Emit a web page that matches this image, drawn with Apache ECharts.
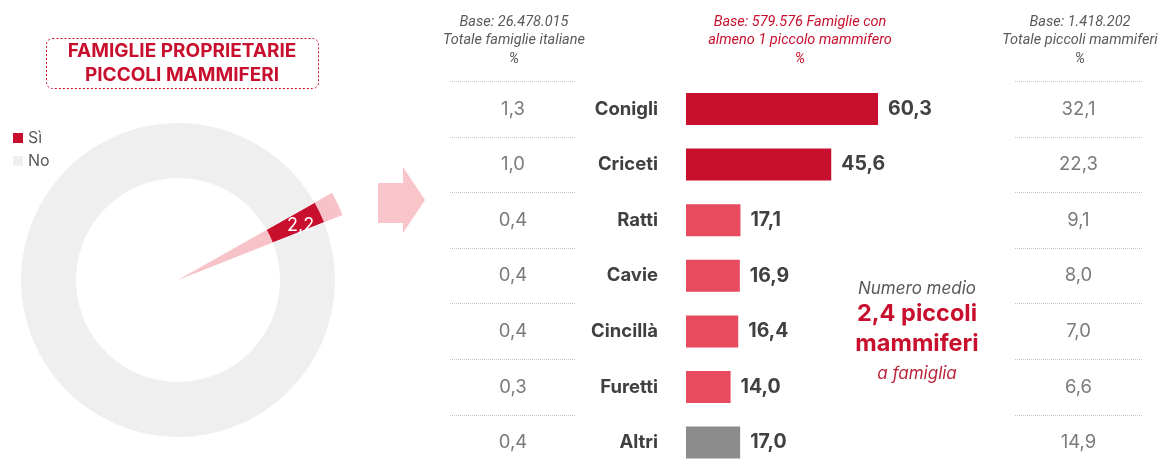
<!DOCTYPE html>
<html>
<head>
<meta charset="utf-8">
<script src="https://cdn.jsdelivr.net/npm/echarts@6/dist/echarts.min.js"></script>
<style>
html,body{margin:0;padding:0;background:#fff;}
#c{width:1159px;height:464px;}
</style>
</head>
<body>
<div id="c"></div>
<script>
// ---- data ----
var donutNames = ['Sì', 'No'];
var donutValues = [2.2, 97.8];
var categories = ['Conigli', 'Criceti', 'Ratti', 'Cavie', 'Cincillà', 'Furetti', 'Altri'];
var famigliePct = [60.3, 45.6, 17.1, 16.9, 16.4, 14.0, 17.0];
var totaleFamigliePct = [1.3, 1.0, 0.4, 0.4, 0.4, 0.3, 0.4];
var totaleMammiferiPct = [32.1, 22.3, 9.1, 8.0, 7.0, 6.6, 14.9];
var barTiers = ['dark', 'dark', 'light', 'light', 'light', 'light', 'other'];

var RED = '#c8102e';
var PINK = '#e84a5f';
var GREY = '#8c8c8c';
var TXT = '#404040';
var TXT2 = '#595959';
var tierColor = {dark: RED, light: PINK, other: GREY};
function fmt(v){ return v.toFixed(1).replace('.', ','); }

var FONT = 'Inter, "Noto Sans", sans-serif';
var HFONT = 'Roboto, "Noto Sans", sans-serif';
var gridTop = 81.2, gridH = 389.2;

var chart = echarts.init(document.getElementById('c'), null, {renderer: 'canvas'});

function tableCol(idx, values){
  return {
    type: 'scatter', xAxisIndex: idx, yAxisIndex: idx,
    symbolSize: 0, silent: true,
    data: values.map(function(v, i){ return {value: [0, i], label: {formatter: fmt(v)}}; }),
    label: {show: true, position: 'inside', fontSize: 18.5, color: TXT2, fontFamily: FONT}
  };
}

var option = {
  backgroundColor: '#fff',
  animation: false,
  textStyle: {fontFamily: FONT},
  legend: {
    orient: 'vertical', left: 8, top: 125,
    data: donutNames,
    itemWidth: 10, itemHeight: 10, itemGap: 7,
    icon: 'rect',
    textStyle: {fontSize: 16, color: TXT2, fontFamily: FONT},
    selectedMode: false
  },
  grid: [
    {left: 686, width: 318.5, top: gridTop, height: gridH, outerBoundsMode: 'none', containLabel: false},
    {left: 450, width: 126, top: gridTop, height: gridH, outerBoundsMode: 'none', containLabel: false},
    {left: 1015, width: 127, top: gridTop, height: gridH, outerBoundsMode: 'none', containLabel: false}
  ],
  xAxis: [
    {gridIndex: 0, type: 'value', min: 0, max: 100, show: false},
    {gridIndex: 1, type: 'category', data: ['c'], show: false},
    {gridIndex: 2, type: 'category', data: ['c'], show: false}
  ],
  yAxis: [
    {gridIndex: 0, type: 'category', data: categories, inverse: true,
      axisLine: {show: false}, axisTick: {show: false}, splitLine: {show: false},
      axisLabel: {fontSize: 18.5, fontWeight: 'bold', color: TXT, margin: 28, fontFamily: FONT}},
    {gridIndex: 1, type: 'category', data: categories, inverse: true,
      axisLine: {show: false}, axisTick: {show: false}, axisLabel: {show: false},
      splitLine: {show: true, lineStyle: {color: '#c4c4c4', type: 'dotted', width: 1}}},
    {gridIndex: 2, type: 'category', data: categories, inverse: true,
      axisLine: {show: false}, axisTick: {show: false}, axisLabel: {show: false},
      splitLine: {show: true, lineStyle: {color: '#c4c4c4', type: 'dotted', width: 1}}}
  ],
  series: [
    {
      type: 'pie', name: 'wedge', silent: true, z: 1,
      center: [178, 280], radius: [0, 177], startAngle: 29.5, clockwise: true,
      label: {show: false}, labelLine: {show: false},
      data: donutValues.map(function(v, i){
        return {name: 'w' + i, value: v, itemStyle: {color: i === 0 ? '#f7c3c9' : 'rgba(0,0,0,0)'}};
      })
    },
    {
      type: 'pie', name: 'Famiglie', z: 2, silent: true,
      center: [178, 280], radius: [102, 157], startAngle: 29.5, clockwise: true,
      labelLine: {show: false},
      data: donutValues.map(function(v, i){
        return {
          name: donutNames[i], value: v,
          itemStyle: {color: i === 0 ? RED : '#efefef'},
          label: i === 0 ? {show: true, position: 'inside', formatter: fmt(v), color: '#fff', fontSize: 18, fontFamily: FONT, offset: [3, 3]}
                         : {show: false}
        };
      })
    },
    {
      type: 'bar', xAxisIndex: 0, yAxisIndex: 0, barWidth: 32, silent: true,
      data: famigliePct.map(function(v, i){
        return {value: v, itemStyle: {color: tierColor[barTiers[i]]}};
      }),
      label: {show: true, position: 'right', distance: 10, fontSize: 19.5, fontWeight: 'bold', color: TXT,
        fontFamily: FONT, formatter: function(p){ return fmt(p.value); }}
    },
    tableCol(1, totaleFamigliePct),
    tableCol(2, totaleMammiferiPct)
  ],
  graphic: [
    {type: 'rect', shape: {x: 46.5, y: 38.5, width: 272, height: 50, r: 6},
      style: {fill: 'none', stroke: RED, lineWidth: 1, lineDash: [2, 2]}},
    {type: 'text', x: 182, y: 40,
      style: {text: 'FAMIGLIE PROPRIETARIE\nPICCOLI MAMMIFERI', align: 'center', fill: RED,
        font: 'bold 19px ' + FONT, lineHeight: 23.5}},
    {type: 'polygon', shape: {points: [[378,183],[403,183],[403,167],[425,200],[403,233],[403,223],[378,223]]},
      style: {fill: '#f9c5cb'}},
    {type: 'text', x: 514, y: 13,
      style: {text: 'Base: 26.478.015\nTotale famiglie italiane\n%', align: 'center', fill: TXT2,
        font: 'italic 14.5px ' + HFONT, lineHeight: 18.5}},
    {type: 'text', x: 800, y: 13,
      style: {text: 'Base: 579.576 Famiglie con\nalmeno 1 piccolo mammifero\n%', align: 'center', fill: RED,
        font: 'italic 14.5px ' + HFONT, lineHeight: 18.5}},
    {type: 'text', x: 1080, y: 13,
      style: {text: 'Base: 1.418.202\nTotale piccoli mammiferi\n%', align: 'center', fill: TXT2,
        font: 'italic 14.5px ' + HFONT, lineHeight: 18.5}},
    {type: 'text', x: 917, y: 280,
      style: {text: 'Numero medio', align: 'center', fill: TXT2, font: 'italic 17px ' + FONT}},
    {type: 'text', x: 917, y: 299,
      style: {text: '2,4 piccoli\nmammiferi', align: 'center', fill: RED, font: 'bold 23.5px ' + FONT, lineHeight: 30}},
    {type: 'text', x: 917, y: 365,
      style: {text: 'a famiglia', align: 'center', fill: '#b8243a', font: 'italic 17px ' + FONT}}
  ]
};
chart.setOption(option);
</script>
</body>
</html>
